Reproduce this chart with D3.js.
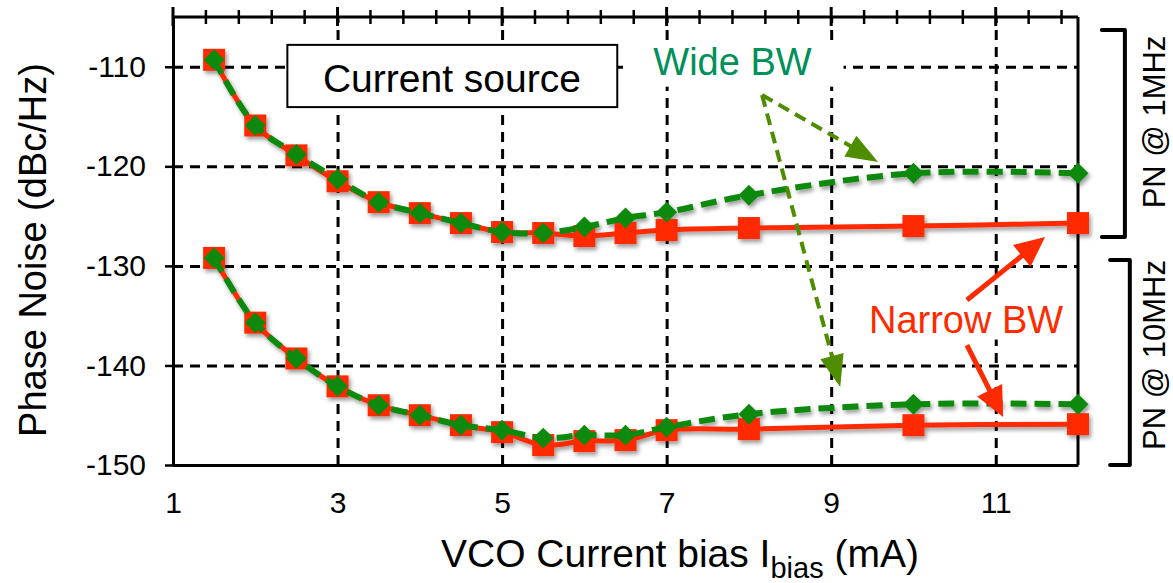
<!DOCTYPE html>
<html>
<head>
<meta charset="utf-8">
<script src="https://d3js.org/d3.v7.min.js"></script>
<style>
    body { margin: 0; background: #fff; }
    text { font-family: "Liberation Sans", Arial, Helvetica, sans-serif; }
</style>
</head>
<body>
<div id="chart"></div>
<script>

// VCO bias current (mA)
var biasCurrent = [1.5, 2, 2.5, 3, 3.5, 4, 4.5, 5, 5.5, 6, 6.5, 7, 8, 10, 12];

// phase noise @ 1MHz (dBc/Hz)
var narrow1MHz = [-109.3, -115.9, -118.9, -121.5, -123.6, -124.7, -125.7, -126.6, -126.7, -127.0, -126.7, -126.4, -126.2, -126.0, -125.7];
var wide1MHz   = [-109.3, -115.9, -118.8, -121.3, -123.6, -124.7, -125.7, -126.6, -126.7, -126.1, -125.2, -124.6, -122.9, -120.7, -120.7];

// phase noise @ 10MHz (dBc/Hz)
var narrow10MHz = [-129.2, -135.7, -139.3, -142.1, -144.0, -145.0, -146.0, -146.7, -148.0, -147.6, -147.5, -146.5, -146.4, -146.0, -145.9];
var wide10MHz   = [-129.2, -135.7, -139.3, -142.1, -144.0, -145.0, -146.0, -146.5, -147.3, -147.0, -147.0, -146.2, -144.9, -143.9, -143.9];

var xTicks = [1, 3, 5, 7, 9, 11];
var yTicks = [-110, -120, -130, -140, -150];

var RED = "#ff2a00",
    GREEN = "#0a8a0a",
    OLIVE = "#4e8c00",
    TEAL = "#00905a";

/*
 * PhaseNoiseChart - Object constructor function
 */
PhaseNoiseChart = function(_parentElement){
    this.parentElement = _parentElement;
    this.initVis();
}

PhaseNoiseChart.prototype.initVis = function(){
    var vis = this;

    vis.margin = { top: 17, right: 95, bottom: 118, left: 173 };
    vis.width = 1173 - vis.margin.left - vis.margin.right;
    vis.height = 583 - vis.margin.top - vis.margin.bottom;

    vis.root = d3.select("#" + vis.parentElement).append("svg")
        .attr("width", 1173)
        .attr("height", 583);

    var f = vis.root.append("defs").append("filter")
        .attr("id", "shadow")
        .attr("x", "-20%").attr("y", "-20%")
        .attr("width", "140%").attr("height", "160%");
    f.append("feDropShadow")
        .attr("dx", 2).attr("dy", 3)
        .attr("stdDeviation", 2)
        .attr("flood-color", "#000")
        .attr("flood-opacity", 0.4);

    vis.svg = vis.root.append("g")
        .attr("transform", "translate(" + vis.margin.left + "," + vis.margin.top + ")");

    vis.x = d3.scaleLinear().domain([1, 12]).range([0, vis.width]);
    vis.y = d3.scaleLinear().domain([-150, -105]).range([vis.height, 0]);

    vis.updateVis();
}

PhaseNoiseChart.prototype.updateVis = function(){
    var vis = this;
    var x = vis.x, y = vis.y;

    // grid
    vis.svg.append("g")
        .attr("class", "grid")
        .attr("transform", "translate(0," + vis.height + ")")
        .call(d3.axisBottom(x).tickValues(xTicks.slice(1)).tickSize(-vis.height).tickFormat(""))
        .call(g => g.select(".domain").remove());

    vis.svg.append("g")
        .attr("class", "grid")
        .call(d3.axisLeft(y).tickValues(yTicks).tickSize(-vis.width).tickFormat(""))
        .call(g => g.select(".domain").remove());

    vis.svg.selectAll(".grid line")
        .attr("stroke", "#000")
        .attr("stroke-width", 2)
        .attr("stroke-dasharray", "10,7");

    // white boxes behind the annotation text
    vis.svg.append("rect")
        .attr("x", x(6.47)).attr("y", y(-107.8))
        .attr("width", x(9.15) - x(6.47)).attr("height", y(-112.0) - y(-107.8))
        .attr("fill", "#fff");

    vis.svg.append("rect")
        .attr("x", x(9.35)).attr("y", y(-133.2))
        .attr("width", x(11.93) - x(9.35)).attr("height", y(-137.4) - y(-133.2))
        .attr("fill", "#fff");

    // axes
    var yAxis = vis.svg.append("g")
        .call(d3.axisLeft(y).tickValues(yTicks).tickSize(8).tickSizeOuter(0).tickPadding(19)
            .tickFormat(d => String(d)));
    yAxis.selectAll("text").attr("font-size", 30).attr("fill", "#000");

    var xAxis = vis.svg.append("g")
        .attr("transform", "translate(0," + vis.height + ")")
        .call(d3.axisBottom(x).tickValues(xTicks).tickSize(-10).tickSizeOuter(0).tickPadding(27));
    xAxis.selectAll("text").attr("font-size", 30).attr("fill", "#000");
    xAxis.selectAll(".tick").filter(d => d === 1).select("line").remove();

    vis.svg.selectAll(".domain, .tick line")
        .attr("stroke", "#000")
        .attr("stroke-width", 3);
    xAxis.selectAll(".tick line").attr("stroke-width", 2);
    yAxis.selectAll(".tick line").attr("stroke-width", 2.5);

    // top edge with ticks crossing it
    vis.svg.append("line")
        .attr("x1", 0).attr("x2", vis.width)
        .attr("stroke", "#000").attr("stroke-width", 3);

    var topTicks = d3.range(0, 28).map(k => 1 + 0.4 * k);
    vis.svg.selectAll(".top-tick")
        .data(topTicks)
        .enter().append("line")
        .attr("class", "top-tick")
        .attr("x1", d => x(d)).attr("x2", d => x(d))
        .attr("y1", (d, i) => i % 5 === 0 ? -10 : -7)
        .attr("y2", (d, i) => i % 5 === 0 ? 9 : 7)
        .attr("stroke", "#000")
        .attr("stroke-width", (d, i) => i % 5 === 0 ? 3 : 2.5);

    // right edge
    vis.svg.append("line")
        .attr("x1", vis.width).attr("x2", vis.width)
        .attr("y1", 0).attr("y2", vis.height)
        .attr("stroke", "#000").attr("stroke-width", 3);

    // series
    var line = function(vals){
        return d3.line()
            .x((d, i) => x(biasCurrent[i]))
            .y(d => y(d))
            .curve(d3.curveCatmullRom.alpha(0.5))(vals);
    };

    var series = vis.svg.append("g").attr("filter", "url(#shadow)");

    [narrow1MHz, narrow10MHz].forEach(function(vals){
        series.append("path")
            .attr("d", line(vals))
            .attr("fill", "none")
            .attr("stroke", RED)
            .attr("stroke-width", 5);

        series.selectAll(null)
            .data(vals)
            .enter().append("rect")
            .attr("x", (d, i) => x(biasCurrent[i]) - 11)
            .attr("y", d => y(d) - 11)
            .attr("width", 22).attr("height", 22)
            .attr("fill", RED);
    });

    [wide1MHz, wide10MHz].forEach(function(vals){
        series.append("path")
            .attr("d", line(vals))
            .attr("fill", "none")
            .attr("stroke", GREEN)
            .attr("stroke-width", 6)
            .attr("stroke-dasharray", "16,8");

        series.selectAll(null)
            .data(vals)
            .enter().append("path")
            .attr("d", d3.symbol(d3.symbolSquare, 220))
            .attr("transform", (d, i) => "translate(" + x(biasCurrent[i]) + "," + y(d) + ") rotate(45)")
            .attr("fill", GREEN);
    });

    // annotation arrows
    var arrow = function(x1, y1, x2, y2, color, dashed, len, half){
        var ax = x(x1), ay = y(y1), bx = x(x2), by = y(y2);
        var dx = bx - ax, dy = by - ay, d = Math.sqrt(dx * dx + dy * dy);
        var ux = dx / d, uy = dy / d;
        var cx = bx - ux * len, cy = by - uy * len;
        vis.svg.append("line")
            .attr("x1", ax).attr("y1", ay)
            .attr("x2", cx + ux * 4).attr("y2", cy + uy * 4)
            .attr("stroke", color)
            .attr("stroke-width", dashed ? 4 : 5)
            .attr("stroke-dasharray", dashed ? "12,7" : null);
        vis.svg.append("polygon")
            .attr("points", [
                [bx, by],
                [cx - uy * half, cy + ux * half],
                [cx + uy * half, cy - ux * half]
            ].map(p => p.join(",")).join(" "))
            .attr("fill", color);
    };

    arrow(8.16, -112.84, 9.57, -119.57, OLIVE, true, 32, 12);
    arrow(8.16, -112.84, 9.11, -142.17, OLIVE, true, 32, 12);
    arrow(10.65, -133.43, 11.60, -127.10, RED, false, 30, 14);
    arrow(10.65, -137.95, 11.09, -145.18, RED, false, 30, 14);

    // annotation text
    vis.svg.append("rect")
        .attr("x", x(2.39)).attr("y", y(-107.8))
        .attr("width", x(6.40) - x(2.39)).attr("height", y(-114.05) - y(-107.8))
        .attr("fill", "#fff")
        .attr("stroke", "#000")
        .attr("stroke-width", 2);

    vis.svg.append("text")
        .attr("x", x(4.39)).attr("y", y(-112.5))
        .attr("text-anchor", "middle")
        .attr("font-size", 39)
        .text("Current source");

    vis.svg.append("text")
        .attr("x", x(7.8)).attr("y", y(-110.8))
        .attr("text-anchor", "middle")
        .attr("font-size", 38)
        .attr("fill", TEAL)
        .text("Wide BW");

    vis.svg.append("text")
        .attr("x", x(10.64)).attr("y", y(-136.7))
        .attr("text-anchor", "middle")
        .attr("font-size", 38)
        .attr("fill", RED)
        .text("Narrow BW");

    // brackets on the right
    var bracket = function(xIn, xOut, yTop, yBot){
        vis.svg.append("path")
            .attr("d", "M" + x(xIn) + "," + y(yTop) + "H" + x(xOut) + "V" + y(yBot) + "H" + x(xIn))
            .attr("fill", "none")
            .attr("stroke", "#000")
            .attr("stroke-width", 4)
            .attr("stroke-linecap", "round")
            .attr("stroke-linejoin", "round");
    };
    bracket(12.29, 12.57, -106.3, -127.1);
    bracket(12.39, 12.63, -129.4, -150);

    vis.root.append("text")
        .attr("transform", "translate(1165,122) rotate(-90)")
        .attr("text-anchor", "middle")
        .attr("font-size", 31)
        .text("PN @ 1MHz");

    vis.root.append("text")
        .attr("transform", "translate(1165,355) rotate(-90)")
        .attr("text-anchor", "middle")
        .attr("font-size", 31)
        .text("PN @ 10MHz");

    // axis titles
    vis.root.append("text")
        .attr("transform", "translate(46,250) rotate(-90)")
        .attr("text-anchor", "middle")
        .attr("font-size", 38)
        .text("Phase Noise (dBc/Hz)");

    var xl = vis.root.append("text")
        .attr("x", 680).attr("y", 567)
        .attr("text-anchor", "middle")
        .attr("font-size", 39);
    xl.append("tspan").text("VCO Current bias I");
    xl.append("tspan").attr("font-size", 29).attr("dy", 11).text("bias");
    xl.append("tspan").attr("dy", -11).text(" (mA)");
}

var chart = new PhaseNoiseChart("chart");

</script>
</body>
</html>
